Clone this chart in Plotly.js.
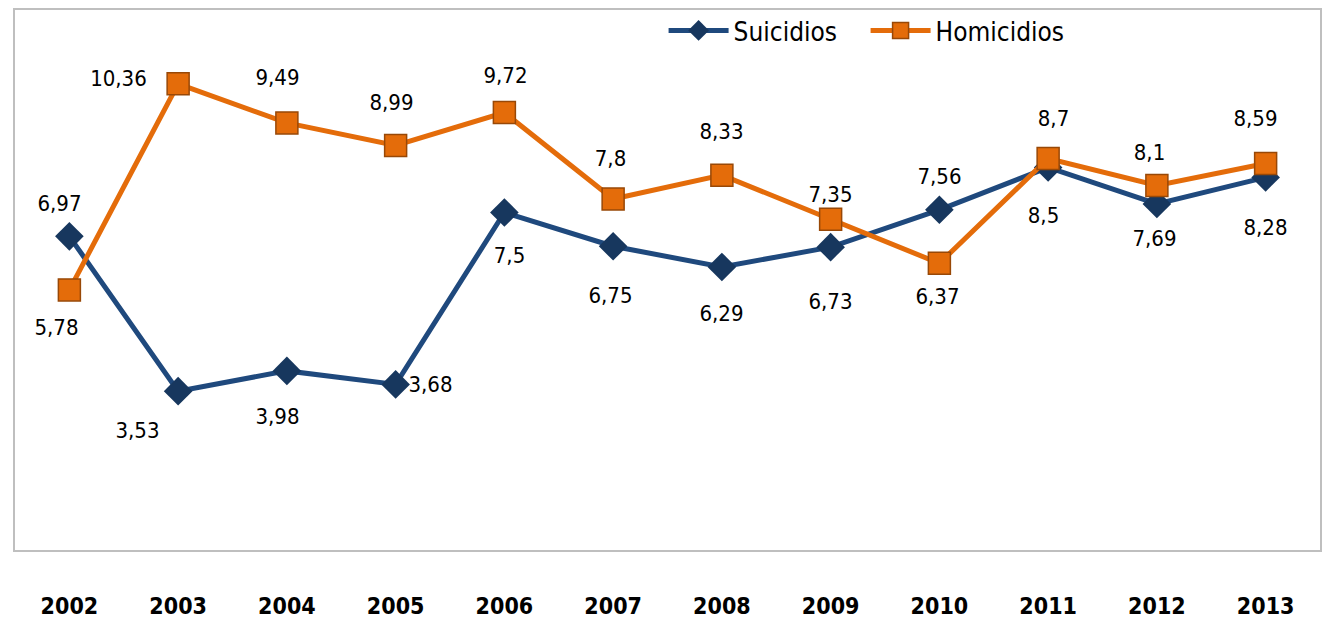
<!DOCTYPE html>
<html>
<head>
<meta charset="utf-8">
<script src="https://cdn.plot.ly/plotly-3.0.1.min.js"></script>
<style>html,body{margin:0;padding:0;background:#fff;}#chart{width:1323px;height:621px;}
#chart text{font-stretch:condensed !important;}</style>
</head>
<body>
<div id="chart"></div>
<script>
var years = ['2002','2003','2004','2005','2006','2007','2008','2009','2010','2011','2012','2013'];
var suicidios = [6.97, 3.53, 3.98, 3.68, 7.5, 6.75, 6.29, 6.73, 7.56, 8.5, 7.69, 8.28];
var homicidios = [5.78, 10.36, 9.49, 8.99, 9.72, 7.8, 8.33, 7.35, 6.37, 8.7, 8.1, 8.59];
var suicidiosLabels = ['6,97','3,53','3,98','3,68','7,5','6,75','6,29','6,73','7,56','8,5','7,69','8,28'];
var homicidiosLabels = ['5,78','10,36','9,49','8,99','9,72','7,8','8,33','7,35','6,37','8,7','8,1','8,59'];

// label offsets (style only, pixels: right, down)
var sOff = [[-10,-33],[-41,39],[-9,46],[35,0],[5,43],[-3,49],[0,47],[0,54],[0,-33],[-5,48],[-2,35],[0,50]];
var hOff = [[-13,38],[-60,-5],[-9,-45],[-4,-43],[1,-37],[-3,-41],[0,-44],[0,-25],[-2,33],[5,-40],[-7,-33],[-10,-45]];

var FAM = '"DejaVu Sans", sans-serif';
var BLUE = '#1F497D', BLUE_M = '#17375E', ORANGE = '#E46C0A', ORANGE_B = '#984807';

var traces = [
  {x: years, y: suicidios, name: 'Suicidios', type: 'scatter', mode: 'lines+markers',
   line: {color: BLUE, width: 5}, marker: {symbol: 'diamond', size: 22, color: BLUE_M}},
  {x: years, y: homicidios, name: 'Homicidios', type: 'scatter', mode: 'lines+markers',
   line: {color: ORANGE, width: 5}, marker: {symbol: 'square', size: 22, color: ORANGE, line: {color: ORANGE_B, width: 1.5}}}
];

var annotations = [];
years.forEach(function(yr, i){
  annotations.push({xref: 'x', yref: 'y', x: i, y: suicidios[i], text: suicidiosLabels[i], showarrow: false,
    xshift: sOff[i][0], yshift: -sOff[i][1], font: {family: FAM, size: 22, color: '#000'}});
  annotations.push({xref: 'x', yref: 'y', x: i, y: homicidios[i], text: homicidiosLabels[i], showarrow: false,
    xshift: hOff[i][0], yshift: -hOff[i][1], font: {family: FAM, size: 22, color: '#000'}});
});

var layout = {
  width: 1323, height: 621,
  margin: {l: 15, r: 3, t: 10, b: 71},
  paper_bgcolor: '#fff', plot_bgcolor: '#fff',
  font: {family: FAM, color: '#000'},
  showlegend: true,
  legend: {orientation: 'h', x: 0.497, xanchor: 'left', y: 0.962, yanchor: 'middle',
    font: {family: FAM, size: 26, color: '#000'}, itemwidth: 60, entrywidth: 127,
    bgcolor: 'rgba(0,0,0,0)'},
  xaxis: {type: 'category', range: [-0.5, 11.5], showline: true, mirror: true, linecolor: '#bfbfbf', linewidth: 2,
    showgrid: false, zeroline: false, ticks: 'outside', ticklen: 34, tickcolor: 'rgba(0,0,0,0)',
    tickfont: {family: FAM, size: 23, color: '#000', weight: 'bold'}, fixedrange: true},
  yaxis: {range: [0, 12], showline: true, mirror: true, linecolor: '#bfbfbf', linewidth: 2,
    showgrid: false, zeroline: false, showticklabels: false, ticks: '', fixedrange: true},
  annotations: annotations
};

Plotly.newPlot('chart', traces, layout, {displayModeBar: false, staticPlot: true});
</script>
</body>
</html>
